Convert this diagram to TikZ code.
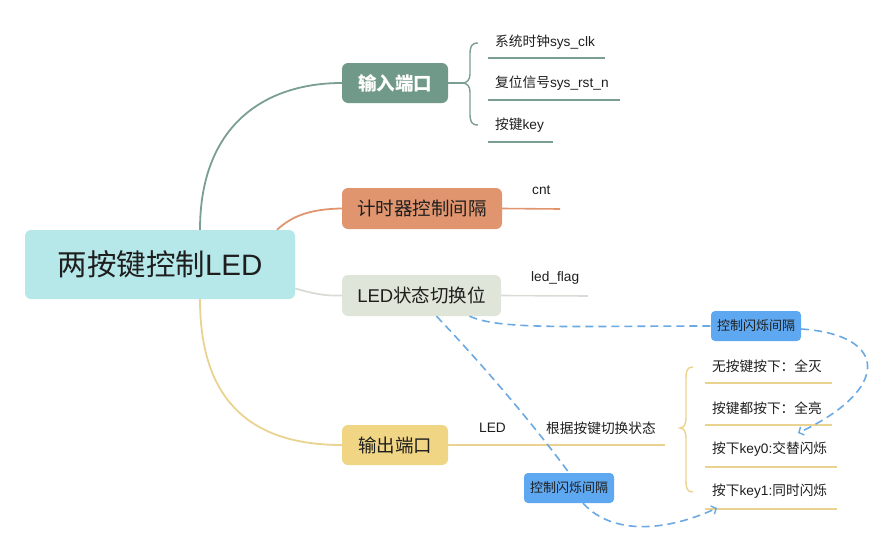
\documentclass[tikz,border=0pt]{standalone}
\usepackage{fontspec}
\setmainfont{Liberation Sans}
\newfontfamily\cjk{Noto Sans CJK SC}
\usetikzlibrary{arrows.meta}
\definecolor{rootc}{HTML}{B6E8EA}
\definecolor{greenc}{HTML}{71998A}
\definecolor{greenl}{HTML}{7A9E8F}
\definecolor{orangec}{HTML}{E0956F}
\definecolor{greyc}{HTML}{DFE6D9}
\definecolor{greyl}{HTML}{D8DCD4}
\definecolor{yellowc}{HTML}{EFD584}
\definecolor{yellowl}{HTML}{EAD391}
\definecolor{bluec}{HTML}{5EA8F2}
\definecolor{bluel}{HTML}{6BA9E3}
\definecolor{textc}{HTML}{1E1E1E}
\tikzset{
  topic/.style={rounded corners=6pt, inner sep=0pt, text=textc, font=\fontsize{18.5}{21}\selectfont},
  leaf/.style={anchor=west, inner sep=0pt, text=textc, font=\fontsize{13.7}{16}\selectfont},
  callout/.style={rounded corners=4pt, fill=bluec, inner sep=0pt, minimum width=90pt, minimum height=30pt, text=textc, font=\fontsize{13}{15}\selectfont},
  dashlink/.style={bluel, line width=1.6pt, dash pattern=on 8pt off 5pt},
  barb/.style={-{Straight Barb[length=4pt,width=9pt,line width=1.4pt]}}
}
\begin{document}
\begin{tikzpicture}[x=1pt,y=-1pt]
\useasboundingbox (0,0) rectangle (895,552);

% main topics
\node[topic, fill=rootc, minimum width=270pt, minimum height=69pt, font=\fontsize{29.5}{32}\selectfont] (root) at (160,264.5) {{\cjk 两按键控制}LED};
\node[topic, fill=greenc, minimum width=106pt, minimum height=40pt, text=white, font=\fontsize{18.5}{21}\selectfont\bfseries] (in) at (395,83) {{\cjk\bfseries 输入端口}};
\node[topic, fill=orangec, minimum width=160pt, minimum height=41pt] (cnt) at (422,208.5) {{\cjk 计时器控制间隔}};
\node[topic, fill=greyc, minimum width=159pt, minimum height=41pt] (flag) at (421.5,295.5) {LED{\cjk 状态切换位}};
\node[topic, fill=yellowc, minimum width=106pt, minimum height=40pt] (out) at (395,445) {{\cjk 输出端口}};

% branches from root
\coordinate (rtop) at ([xshift=40pt]root.north);
\coordinate (rtop2) at ([xshift=117pt]root.north);
\coordinate (rbot) at ([xshift=40pt]root.south);
\coordinate (rright) at ([yshift=-24pt]root.east);
\draw[greenl, line width=1.8pt] (rtop) .. controls (200,125) and (265,83) .. (in.west);
\draw[orangec, line width=1.8pt] (rtop2) .. controls (292,216) and (310,209) .. (cnt.west);
\draw[greyl, line width=1.8pt] (rright) .. controls (315,294) and (325,296) .. (flag.west);
\draw[yellowl, line width=1.8pt] (rbot) .. controls (200,400) and (250,445) .. (out.west);

% input children
\coordinate (inb) at (462,83);
\draw[greenl, line width=1.4pt] (in.east) -- (inb);
\draw[greenl, line width=1.4pt] (478,43) .. controls (471,43) and (470,47) .. (470,55) -- (470,74) .. controls (470,80) and (467,83) .. (inb) .. controls (467,83) and (470,86) .. (470,92) -- (470,113) .. controls (470,121) and (471,125) .. (478,125);
\node[leaf] (k1) at (495,42) {{\cjk 系统时钟}sys\_clk};
\node[leaf] (k2) at (495,83) {{\cjk 复位信号}sys\_rst\_n};
\node[leaf] (k3) at (495,125) {{\cjk 按键}key};
\draw[greenl, line width=1.4pt] (488,58) -- (605,58);
\draw[greenl, line width=1.4pt] (488,100) -- (620,100);
\draw[greenl, line width=1.4pt] (488,142) -- (553,142);

% cnt and led_flag
\coordinate (cntend) at (560,209);
\draw[orangec, line width=1.6pt] (cnt.east) -- (cntend);
\node[leaf] (cntt) at (532,190) {cnt};
\coordinate (flagend) at (588,296);
\draw[greyl, line width=1.6pt] (flag.east) -- (flagend);
\node[leaf] (flagt) at (531,278) {led\_flag};

% output
\coordinate (outend) at (665,445);
\draw[yellowl, line width=1.4pt] (out.east) -- (outend);
\node[leaf] (ledt) at (479,428) {LED};
\node[leaf] (st) at (546,428) {{\cjk 根据按键切换状态}};
\draw[yellowl, line width=1.4pt] (693,367) .. controls (687,367) and (686,371) .. (686,378) -- (686,418) .. controls (686,424) and (684,428) .. (680,428) .. controls (684,428) and (686,432) .. (686,438) -- (686,481) .. controls (686,488) and (687,492) .. (693,492);
\node[leaf] (o1) at (712,366) {{\cjk 无按键按下：全灭}};
\node[leaf] (o2) at (712,408) {{\cjk 按键都按下：全亮}};
\node[leaf] (o3) at (712,449) {{\cjk 按下}key0:{\cjk 交替闪烁}};
\node[leaf] (o4) at (712,491) {{\cjk 按下}key1:{\cjk 同时闪烁}};
\draw[yellowl, line width=1.4pt] (705,383) -- (832,383);
\draw[yellowl, line width=1.4pt] (705,425) -- (832,425);
\draw[yellowl, line width=1.4pt] (705,467) -- (837,467);
\draw[yellowl, line width=1.4pt] (705,509) -- (837,509);

% callouts
\node[callout] (c1) at (756,326) {{\cjk 控制闪烁间隔}};
\node[callout] (c2) at (569,488) {{\cjk 控制闪烁间隔}};
\coordinate (f1) at ([xshift=48pt]flag.south);
\coordinate (f2) at ([xshift=15pt]flag.south);
\coordinate (a1) at (798,433);
\coordinate (a2) at (717,508);
\coordinate (c2b) at ([xshift=14pt]c2.south);
\draw[dashlink] (f1) .. controls (500,330) and (570,326) .. (c1.west);
\draw[dashlink, barb] ([yshift=-3pt]c1.east) .. controls (890,335) and (890,390) .. (a1);
\draw[dashlink] (f2) .. controls (480,362) and (530,420) .. (c2.north);
\draw[dashlink, barb] (c2b) .. controls (612,535) and (665,532) .. (a2);
\end{tikzpicture}
\end{document}
